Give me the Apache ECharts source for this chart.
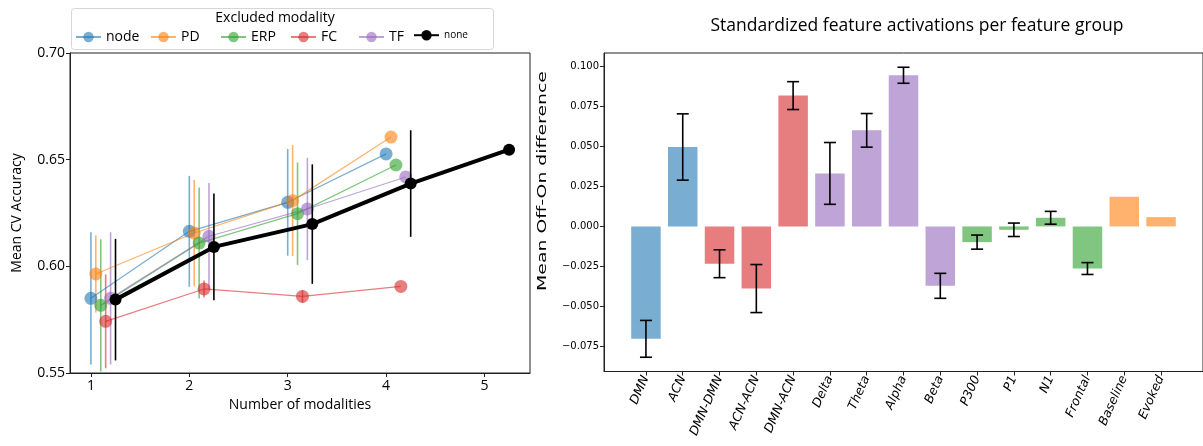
<!DOCTYPE html>
<html>
<head>
<meta charset="utf-8">
<script src="https://cdn.jsdelivr.net/npm/echarts@6/dist/echarts.min.js"></script>
<style>
html,body{margin:0;padding:0;background:#fff;}
#chart{width:1203px;height:446px;}
</style>
</head>
<body>
<div id="chart"></div>
<script>
// ---------- Left panel data ----------
const modalities = ['node', 'PD', 'ERP', 'FC', 'TF', 'none'];
const nModalities = [1, 2, 3, 4, 5];
const accNode = [0.5850, 0.6164, 0.6300, 0.6527];
const errNode = [0.031, 0.026, 0.025, 0];
const accPD   = [0.5964, 0.6156, 0.6308, 0.6606];
const errPD   = [0.018, 0.025, 0.026, 0];
const accERP  = [0.5817, 0.6109, 0.6247, 0.6475];
const errERP  = [0.031, 0.026, 0.024, 0];
const accFC   = [0.5742, 0.5894, 0.5859, 0.5906];
const errFC   = [0.022, 0.004, 0.003, 0];
const accTF   = [0.5850, 0.6141, 0.6269, 0.6419];
const errTF   = [0.031, 0.025, 0.024, 0];
const accNone = [0.5844, 0.6091, 0.6198, 0.6388, 0.6547];
const errNone = [0.0285, 0.025, 0.028, 0.025, 0];
const accTicks = [0.55, 0.60, 0.65, 0.70];

// ---------- Right panel data ----------
const features = ['DMN', 'ACN', 'DMN-DMN', 'ACN-ACN', 'DMN-ACN', 'Delta', 'Theta', 'Alpha', 'Beta', 'P300', 'P1', 'N1', 'Frontal', 'Baseline', 'Evoked'];
const featureGroup = ['node', 'node', 'FC', 'FC', 'FC', 'TF', 'TF', 'TF', 'TF', 'ERP', 'ERP', 'ERP', 'ERP', 'PD', 'PD'];
const diffMean = [-0.0702, 0.0496, -0.0233, -0.0388, 0.0817, 0.0331, 0.0600, 0.0944, -0.0371, -0.0098, -0.0021, 0.0054, -0.0263, 0.0185, 0.0058];
const diffErr  = [0.0115, 0.0207, 0.0087, 0.0150, 0.0087, 0.0193, 0.0105, 0.0050, 0.0078, 0.0044, 0.0042, 0.0040, 0.0037, 0, 0];
const diffTicks = [-0.075, -0.050, -0.025, 0.000, 0.025, 0.050, 0.075, 0.100];

// ---------- styling ----------
const colors = {node: '#1f77b4', PD: '#ff7f0e', ERP: '#2ca02c', FC: '#d62728', TF: '#9467bd', none: '#000000'};
const accMap = {node: accNode, PD: accPD, ERP: accERP, FC: accFC, TF: accTF, none: accNone};
const errMap = {node: errNode, PD: errPD, ERP: errERP, FC: errFC, TF: errTF, none: errNone};
const dodge = 0.05;
const fontA = '"Open Sans", sans-serif';
const fontB = '"DejaVu Sans", sans-serif';

function errRender(capHalf, lw, colorFn, opacity) {
  return function (params, api) {
    const x = api.value(0), lo = api.value(1), hi = api.value(2);
    const p1 = api.coord([x, lo]);
    const p2 = api.coord([x, hi]);
    const col = colorFn(params.dataIndex);
    const st = {stroke: col, lineWidth: lw, opacity: opacity};
    const children = [{type: 'line', shape: {x1: p1[0], y1: p1[1], x2: p2[0], y2: p2[1]}, style: st}];
    if (capHalf > 0) {
      children.push({type: 'line', shape: {x1: p1[0] - capHalf, y1: p1[1], x2: p1[0] + capHalf, y2: p1[1]}, style: st});
      children.push({type: 'line', shape: {x1: p2[0] - capHalf, y1: p2[1], x2: p2[0] + capHalf, y2: p2[1]}, style: st});
    }
    return {type: 'group', children: children};
  };
}

const series = [];
modalities.forEach(function (m, i) {
  const isNone = m === 'none';
  const off = i * dodge;
  const acc = accMap[m], err = errMap[m];
  const col = colors[m];
  const op = isNone ? 1 : 0.6;
  series.push({
    type: 'custom', xAxisIndex: 0, yAxisIndex: 0, z: isNone ? 4 : 2,
    silent: true,
    renderItem: errRender(0, 1.6, function () { return col; }, op),
    encode: {x: 0, y: [1, 2]},
    data: acc.map(function (v, k) { return [nModalities[k] + off, v - err[k], v + err[k], err[k]]; })
             .filter(function (d) { return d[3] > 0; })
  });
  series.push({
    type: 'line', name: m, xAxisIndex: 0, yAxisIndex: 0, z: isNone ? 5 : 3,
    symbol: 'circle', symbolSize: isNone ? 12 : 13, showSymbol: true,
    lineStyle: {color: col, width: isNone ? 4 : 1.2, opacity: op},
    itemStyle: {color: col, opacity: op, borderWidth: 0},
    emphasis: {disabled: true},
    data: acc.map(function (v, k) { return [nModalities[k] + off, v]; })
  });
});

series.push({
  type: 'bar', xAxisIndex: 1, yAxisIndex: 1, barWidth: 29.5,
  emphasis: {disabled: true},
  data: diffMean.map(function (v, i) {
    return {value: [i, v], itemStyle: {color: colors[featureGroup[i]], opacity: 0.6}};
  })
});
series.push({
  type: 'custom', xAxisIndex: 1, yAxisIndex: 1, z: 5, silent: true,
  renderItem: errRender(6, 1.6, function () { return '#000'; }, 1),
  encode: {x: 0, y: [1, 2]},
  data: diffMean.map(function (v, i) { return [i, v - diffErr[i], v + diffErr[i], diffErr[i]]; })
                .filter(function (d) { return d[3] > 0; })
});

const legendLefts = {node: 75, PD: 150, ERP: 220, FC: 290, TF: 358, none: 413};
const legends = modalities.map(function (m) {
  return {
    data: [m], left: legendLefts[m], top: 30, padding: 0,
    itemWidth: 25, itemHeight: 13, itemGap: 5,
    selectedMode: false,
    textStyle: {fontFamily: fontA, fontSize: m === 'none' ? 10 : 14, color: '#000', padding: [0, 0, 0, 0]}
  };
});

const fmtSigned = function (v) {
  const s = Math.abs(v).toFixed(3);
  return (v < -1e-9 ? '\u2212' : '') + s;
};

const option = {
  animation: false,
  backgroundColor: '#fff',
  legend: legends,
  grid: [
    {left: 70, top: 53, width: 460, height: 320, show: true, borderColor: '#222', borderWidth: 1},
    {left: 604, top: 53, width: 600, height: 318.5, show: true, borderColor: '#222', borderWidth: 1}
  ],
  xAxis: [
    {
      type: 'value', gridIndex: 0, min: 0.7875, max: 5.4625,
      name: 'Number of modalities', nameLocation: 'middle', nameGap: 21,
      nameTextStyle: {fontFamily: fontA, fontSize: 14, color: '#000'},
      axisLine: {show: true, onZero: false, lineStyle: {color: '#222'}},
      axisTick: {show: true, length: 4, customValues: nModalities, lineStyle: {color: '#222'}},
      axisLabel: {customValues: nModalities, margin: 6, fontFamily: fontA, fontSize: 14, color: '#000',
                  formatter: function (v) { return String(Math.round(v)); }},
      splitLine: {show: false}
    },
    {
      type: 'value', gridIndex: 1, min: -1.14, max: 15.14,
      axisLine: {show: true, onZero: false, lineStyle: {color: '#222'}},
      axisTick: {show: true, length: 4, customValues: features.map(function (f, i) { return i; }), lineStyle: {color: '#222'}},
      axisLabel: {customValues: features.map(function (f, i) { return i; }), rotate: 66, margin: 5,
                  fontFamily: fontB, fontStyle: 'italic', fontSize: 12.5, color: '#000',
                  formatter: function (v) { return features[Math.round(v)]; }},
      splitLine: {show: false}
    }
  ],
  yAxis: [
    {
      type: 'value', gridIndex: 0, min: 0.55, max: 0.70, interval: 0.05,
      name: 'Mean CV Accuracy', nameLocation: 'middle', nameGap: 46,
      nameTextStyle: {fontFamily: fontA, fontSize: 14, color: '#000'},
      axisLine: {show: true, onZero: false, lineStyle: {color: '#222'}},
      axisTick: {show: true, length: 4, lineStyle: {color: '#222'}},
      axisLabel: {margin: 5, fontFamily: fontA, fontSize: 14, color: '#000',
                  formatter: function (v) { return v.toFixed(2); }},
      splitLine: {show: false}
    },
    {
      type: 'value', gridIndex: 1, min: -0.0906, max: 0.1083,
      axisLine: {show: true, onZero: false, lineStyle: {color: '#222'}},
      axisTick: {show: true, length: 4, customValues: diffTicks, lineStyle: {color: '#222'}},
      axisLabel: {customValues: diffTicks, margin: 5, fontFamily: fontB, fontSize: 10, color: '#000',
                  formatter: fmtSigned},
      splitLine: {show: false}
    }
  ],
  graphic: [
    {type: 'rect', left: 71, top: 8, z: -1, shape: {width: 422, height: 41, r: 3},
     style: {fill: '#fff', stroke: '#d6d6d6', lineWidth: 1}},
    {type: 'text', x: 275, y: 18, style: {text: 'Excluded modality', font: '14px "Open Sans"', fill: '#000',
      textAlign: 'center', textVerticalAlign: 'middle'}},
    {type: 'text', x: 917, y: 26, style: {text: 'Standardized feature activations per feature group',
      font: '17.5px "Open Sans"', fill: '#000', textAlign: 'center', textVerticalAlign: 'middle'}},
    {type: 'text', x: 543, y: 181, rotation: Math.PI / 2, scaleX: 1.45,
     style: {text: 'Mean Off-On difference', font: '13px "DejaVu Sans"', fill: '#000',
      textAlign: 'center', textVerticalAlign: 'middle'}}
  ],
  series: series
};

const chart = echarts.init(document.getElementById('chart'), null, {renderer: 'canvas'});
chart.setOption(option);
</script>
</body>
</html>
